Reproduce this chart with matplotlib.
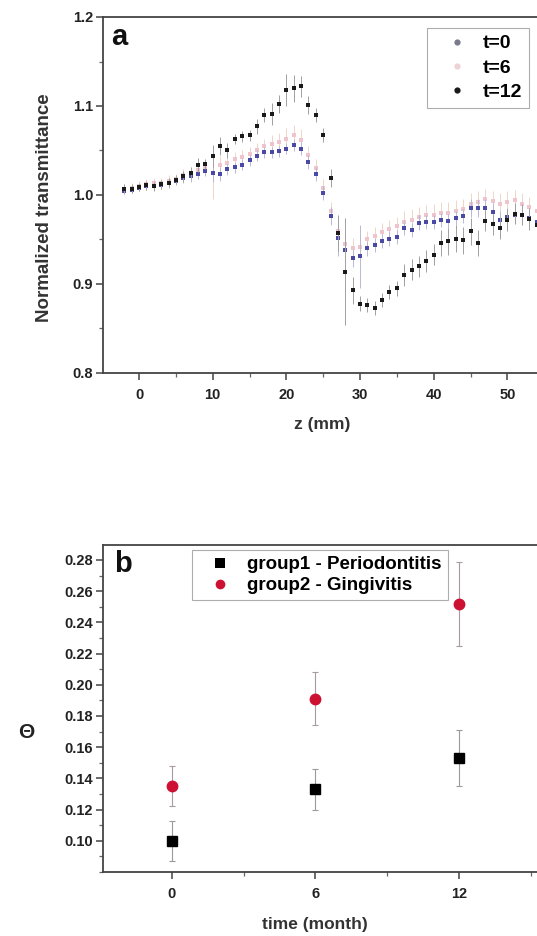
import matplotlib
matplotlib.use('Agg')
import matplotlib.pyplot as plt
from matplotlib.lines import Line2D
from matplotlib.ticker import MultipleLocator

plt.rcParams['font.family'] = ['Liberation Sans', 'DejaVu Sans']
plt.rcParams['font.weight'] = 'bold'

# ---- panel a: normalized transmittance scans ----
z_mm = list(range(-2, 55))

t0 = [1.005, 1.006, 1.008, 1.010, 1.010, 1.011, 1.013, 1.016, 1.019, 1.021,
      1.024, 1.027, 1.025, 1.024, 1.029, 1.031, 1.034, 1.039, 1.044, 1.048,
      1.048, 1.049, 1.052, 1.056, 1.052, 1.037, 1.024, 1.002, 0.976, 0.952,
      0.938, 0.929, 0.931, 0.940, 0.944, 0.948, 0.951, 0.953, 0.963, 0.961,
      0.969, 0.970, 0.970, 0.972, 0.971, 0.974, 0.976, 0.985, 0.985, 0.985,
      0.981, 0.972, 0.975, 0.978, 0.977, 0.974, 0.970]
t0_err = [0.004, 0.004, 0.004, 0.004, 0.004, 0.004, 0.005, 0.005, 0.005, 0.006,
          0.006, 0.006, 0.010, 0.008, 0.006, 0.006, 0.006, 0.006, 0.006, 0.006,
          0.006, 0.006, 0.006, 0.007, 0.007, 0.008, 0.008, 0.008, 0.010, 0.020,
          0.010, 0.010, 0.035, 0.008, 0.008, 0.008, 0.008, 0.008, 0.008, 0.008,
          0.008, 0.008, 0.008, 0.008, 0.008, 0.008, 0.008, 0.010, 0.010, 0.010,
          0.010, 0.010, 0.010, 0.010, 0.010, 0.010, 0.010]

t6 = [1.006, 1.008, 1.010, 1.012, 1.013, 1.013, 1.016, 1.018, 1.022, 1.024,
      1.028, 1.030, 1.025, 1.034, 1.036, 1.040, 1.043, 1.046, 1.050, 1.055,
      1.057, 1.060, 1.063, 1.067, 1.062, 1.045, 1.030, 1.008, 0.982, 0.960,
      0.945, 0.940, 0.942, 0.950, 0.954, 0.958, 0.962, 0.965, 0.970, 0.972,
      0.975, 0.977, 0.978, 0.980, 0.980, 0.982, 0.984, 0.990, 0.992, 0.995,
      0.993, 0.990, 0.992, 0.994, 0.990, 0.986, 0.982]
t6_err = [0.006, 0.006, 0.006, 0.006, 0.006, 0.006, 0.006, 0.006, 0.007, 0.007,
          0.008, 0.008, 0.030, 0.010, 0.008, 0.008, 0.008, 0.008, 0.008, 0.008,
          0.010, 0.010, 0.012, 0.012, 0.012, 0.010, 0.010, 0.010, 0.010, 0.012,
          0.012, 0.012, 0.012, 0.010, 0.010, 0.010, 0.010, 0.010, 0.012, 0.012,
          0.012, 0.012, 0.012, 0.012, 0.012, 0.012, 0.012, 0.012, 0.012, 0.012,
          0.012, 0.012, 0.012, 0.012, 0.012, 0.012, 0.012]

t12 = [1.007, 1.007, 1.009, 1.011, 1.010, 1.012, 1.014, 1.017, 1.021, 1.025,
       1.034, 1.035, 1.044, 1.055, 1.050, 1.063, 1.066, 1.067, 1.077, 1.090,
       1.091, 1.102, 1.118, 1.120, 1.122, 1.101, 1.090, 1.067, 1.019, 0.957,
       0.914, 0.893, 0.878, 0.876, 0.873, 0.882, 0.891, 0.895, 0.910, 0.916,
       0.920, 0.926, 0.933, 0.946, 0.948, 0.951, 0.949, 0.959, 0.946, 0.971,
       0.967, 0.963, 0.972, 0.979, 0.978, 0.973, 0.966]
t12_err = [0.005, 0.005, 0.005, 0.005, 0.005, 0.005, 0.005, 0.005, 0.006, 0.006,
           0.008, 0.006, 0.012, 0.010, 0.008, 0.006, 0.006, 0.006, 0.008, 0.008,
           0.012, 0.010, 0.018, 0.015, 0.012, 0.010, 0.008, 0.008, 0.010, 0.020,
           0.060, 0.015, 0.008, 0.008, 0.008, 0.008, 0.008, 0.008, 0.012, 0.012,
           0.012, 0.012, 0.012, 0.015, 0.015, 0.015, 0.015, 0.015, 0.015, 0.012,
           0.012, 0.012, 0.012, 0.012, 0.012, 0.012, 0.012]

# ---- panel b: theta vs time ----
months = [0, 6, 12]
group1 = [0.100, 0.133, 0.153]
group1_err = [0.013, 0.013, 0.018]
group2 = [0.135, 0.191, 0.252]
group2_err = [0.013, 0.017, 0.027]

W, H = 537, 936
fig = plt.figure(figsize=(W / 100, H / 100), dpi=100)


def box(left, top, right, bottom):
    return [left / W, 1 - bottom / H, (right - left) / W, (bottom - top) / H]


def style_axes(ax):
    for side in ['left', 'bottom', 'top', 'right']:
        ax.spines[side].set_linewidth(1.3)
        ax.spines[side].set_color('#444444')
    ax.tick_params(which='major', direction='out', length=5, width=1.1,
                   color='#444444', labelsize=10.5, labelcolor='#222222')
    ax.tick_params(which='minor', direction='out', length=3, width=0.9,
                   color='#666666')
    ax.tick_params(axis='x', which='major', pad=6)
    ax.tick_params(axis='y', which='major', pad=2)
    ax.tick_params(top=False, right=False, which='both')
    for lab in ax.get_xticklabels() + ax.get_yticklabels():
        lab.set_fontweight('bold')


def marker_handle(marker, color, size):
    return Line2D([], [], linestyle='none', marker=marker, color=color,
                  markersize=size, markeredgewidth=0)


# panel a
ax1 = fig.add_axes(box(103, 17, 539, 373))
kw = dict(fmt='s', markersize=3.3, elinewidth=0.7, capsize=1.5, capthick=0.7,
          markeredgewidth=0)
ax1.errorbar(z_mm, t6, yerr=t6_err, color='#f0c4cc', ecolor='#efd6c6',
             zorder=2, **kw)
ax1.errorbar(z_mm, t0, yerr=t0_err, color='#4a4aa6', ecolor='#b8b8d8',
             zorder=3, **kw)
ax1.errorbar(z_mm, t12, yerr=t12_err, color='#1a1a1a', ecolor='#a0a0a0',
             zorder=4, **kw)
ax1.set_xlim(-4.9, 54.3)
ax1.set_ylim(0.8, 1.2)
ax1.xaxis.set_major_locator(MultipleLocator(10))
ax1.xaxis.set_minor_locator(MultipleLocator(5))
ax1.yaxis.set_major_locator(MultipleLocator(0.1))
ax1.yaxis.set_minor_locator(MultipleLocator(0.05))
ax1.set_yticklabels([f'{v:.1f}' for v in ax1.get_yticks()])
style_axes(ax1)
leg1 = ax1.legend([marker_handle('o', '#7a7a8e', 4.5),
                   marker_handle('o', '#efd2d6', 4.5),
                   marker_handle('o', '#1a1a1a', 4.5)],
                  ['t=0', 't=6', 't=12'],
                  loc='upper left', bbox_to_anchor=(427 / W, 1 - 28 / H),
                  bbox_transform=fig.transFigure, fontsize=14,
                  frameon=True, fancybox=False, borderpad=0.35,
                  handlelength=2.4, handletextpad=0.1, labelspacing=0.35,
                  borderaxespad=0)
leg1.get_frame().set_edgecolor('#999999')
leg1.get_frame().set_linewidth(0.8)
fig.text(111 / W, 1 - 45 / H, 'a', fontsize=21, fontweight='bold',
         color='#111111', va='baseline')
fig.text(45 / W, 1 - 208 / H, 'Normalized transmittance', rotation=90,
         fontsize=13.5, fontweight='bold', color='#333333',
         ha='center', va='center')
fig.text(322 / W, 1 - 425 / H, 'z (mm)', fontsize=12.5, fontweight='bold',
         color='#333333', ha='center', va='center')

# panel b
ax2 = fig.add_axes(box(103, 545, 539, 872))
ax2.errorbar(months, group1, yerr=group1_err, fmt='s', color='#000000',
             ecolor='#9a9a9a', markersize=7, elinewidth=0.8, capsize=2.5,
             capthick=0.8, zorder=3)
ax2.errorbar(months, group2, yerr=group2_err, fmt='o', color='#cc1133',
             ecolor='#a89aa0', markersize=7.5, elinewidth=0.8, capsize=2.5,
             capthick=0.8, zorder=3)
ax2.set_xlim(-2.885, 15.35)
ax2.set_xticks(months)
ax2.xaxis.set_minor_locator(MultipleLocator(3))
ax2.set_yticks([0.10, 0.12, 0.14, 0.16, 0.18, 0.20, 0.22, 0.24, 0.26, 0.28])
ax2.yaxis.set_minor_locator(MultipleLocator(0.01))
ax2.set_yticklabels([f'{v:.2f}' for v in ax2.get_yticks()])
ax2.set_ylim(0.080, 0.2896)
style_axes(ax2)
leg2 = ax2.legend([marker_handle('s', '#000000', 6.5),
                   marker_handle('o', '#cc1133', 7)],
                  ['group1 - Periodontitis', 'group2 - Gingivitis'],
                  loc='upper left', bbox_to_anchor=(192 / W, 1 - 550 / H),
                  bbox_transform=fig.transFigure, fontsize=13.5,
                  frameon=True, fancybox=False, borderpad=0.33,
                  handlelength=2.33, handletextpad=0.27, labelspacing=0.2,
                  borderaxespad=0)
leg2.get_frame().set_edgecolor('#999999')
leg2.get_frame().set_linewidth(0.8)
fig.text(114 / W, 1 - 572 / H, 'b', fontsize=21, fontweight='bold',
         color='#111111', va='baseline')
fig.text(26 / W, 1 - 733 / H, 'Θ', fontsize=15, fontweight='bold',
         color='#222222', ha='center', va='center')
fig.text(315 / W, 1 - 924 / H, 'time (month)', fontsize=12.5,
         fontweight='bold', color='#333333', ha='center', va='center')

fig.savefig('out.png', dpi=100, facecolor='white')
